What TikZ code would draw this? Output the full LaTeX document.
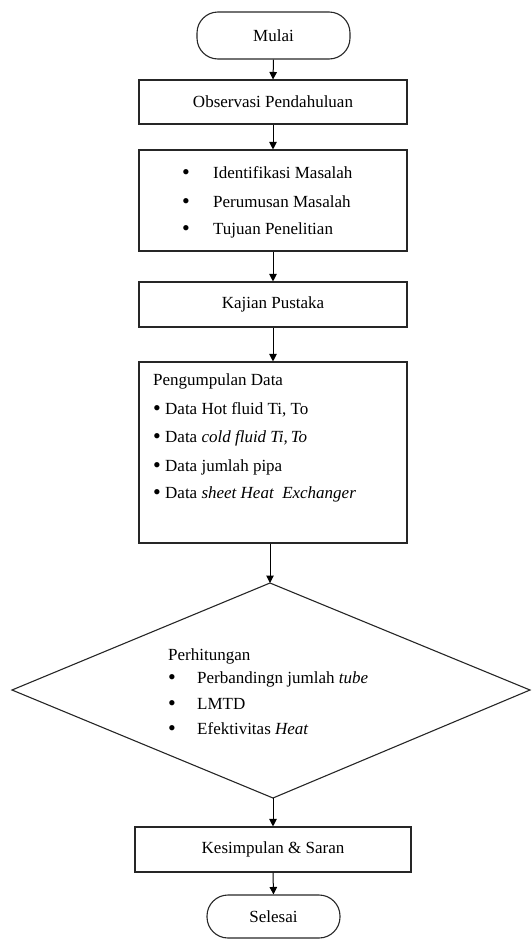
\documentclass[tikz,border=0pt]{standalone}
\usepackage{fontspec}
\setmainfont{Liberation Serif}
\usetikzlibrary{arrows.meta}
\newcommand\diagfont{\fontsize{17}{20}\selectfont}
\newcommand\bigbul{\raisebox{-1.8pt}{\scalebox{1.3}{\textbullet}}}
\begin{document}
\begin{tikzpicture}[x=1pt,y=-1pt,
  line/.style={line width=1.1pt, draw=black!85},
  box/.style={line, draw, rectangle, inner sep=0pt, font=\diagfont, minimum width=268pt},
  term/.style={line, draw, rectangle, rounded corners=21pt, inner sep=0pt, font=\diagfont},
  txt/.style={inner sep=0pt, font=\diagfont},
  arr/.style={line width=1pt, -{Triangle[length=7.5pt,width=7.5pt]}}]
\useasboundingbox (0,0) rectangle (532,940);

% terminals
\node[term, minimum width=153pt, minimum height=47pt] (mulai) at (273.5,35.5) {Mulai};
\node[term, minimum width=133pt, minimum height=43pt] (selesai) at (273.5,916.5) {Selesai};

% boxes
\node[box, minimum height=44pt] (obs) at (273,102) {Observasi Pendahuluan};
\node[box, minimum height=101pt] (ident) at (273,200.5) {};
\node[box, minimum height=45pt] (kajian) at (273,304.5) {Kajian Pustaka};
\node[box, minimum height=181pt] (data) at (273,452.5) {};
\node[box, minimum width=276pt, minimum height=45pt] (kes) at (273,849.5) {Kesimpulan \& Saran};

% diamond
\coordinate (dtop) at (270,583);
\coordinate (dright) at (530,690);
\coordinate (dbot) at (273,798);
\coordinate (dleft) at (12,690);
\draw[line] (dtop) -- (dright) -- (dbot) -- (dleft) -- cycle;

% list box contents
\node[txt, anchor=base] (ib1) at (186,178) {\bigbul};
\node[txt, anchor=base west] (il1) at (213,178) {Identifikasi Masalah};
\node[txt, anchor=base] (ib2) at (186,207) {\bigbul};
\node[txt, anchor=base west] (il2) at (213,207) {Perumusan Masalah};
\node[txt, anchor=base] (ib3) at (186,234) {\bigbul};
\node[txt, anchor=base west] (il3) at (213,234) {Tujuan Penelitian};

% data box contents
\node[txt, anchor=base west] (dh) at (153,385) {Pengumpulan Data};
\node[txt, anchor=base west] (d1) at (153,414) {\bigbul\ Data Hot fluid Ti, To};
\node[txt, anchor=base west] (d2) at (153,442) {\bigbul\ Data \textit{cold fluid Ti,\,To}};
\node[txt, anchor=base west] (d3) at (153,471) {\bigbul\ Data jumlah pipa};
\node[txt, anchor=base west] (d4) at (153,498) {\bigbul\ Data \textit{sheet Heat\ \ Exchanger}};

% diamond contents
\node[txt, anchor=base west] (ph) at (168,660) {Perhitungan};
\node[txt, anchor=base] (pb1) at (172,683) {\bigbul};
\node[txt, anchor=base west] (p1) at (197,683) {Perbandingn jumlah \textit{tube}};
\node[txt, anchor=base] (pb2) at (172,709) {\bigbul};
\node[txt, anchor=base west] (p2) at (197,709) {LMTD};
\node[txt, anchor=base] (pb3) at (172,734) {\bigbul};
\node[txt, anchor=base west] (p3) at (197,734) {Efektivitas \textit{Heat}};

% connectors
\draw[arr] (mulai.south) -- (obs.north);
\draw[arr] (obs.south) -- (ident.north);
\draw[arr] (ident.south) -- (kajian.north);
\draw[arr] (kajian.south) -- (data.north);
\draw[arr] (data.south -| dtop) -- (dtop);
\draw[arr] (dbot) -- (kes.north -| dbot);
\draw[arr] (kes.south) -- (selesai.north);
\end{tikzpicture}
\end{document}
